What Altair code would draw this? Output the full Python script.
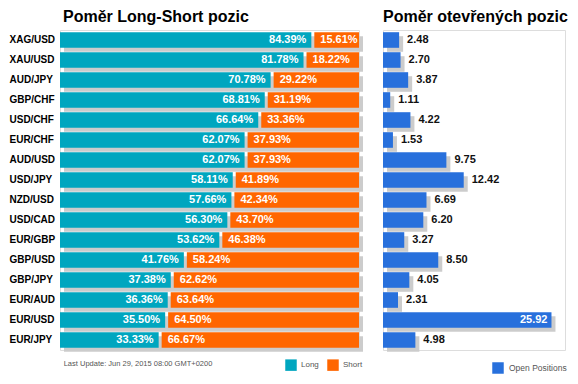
import altair as alt
import pandas as pd

pairs = ["XAG/USD", "XAU/USD", "AUD/JPY", "GBP/CHF", "USD/CHF", "EUR/CHF", "AUD/USD", "USD/JPY",
         "NZD/USD", "USD/CAD", "EUR/GBP", "GBP/USD", "GBP/JPY", "EUR/AUD", "EUR/USD", "EUR/JPY"]
long_pct = [84.39, 81.78, 70.78, 68.81, 66.64, 62.07, 62.07, 58.11, 57.66, 56.30, 53.62, 41.76,
            37.38, 36.36, 35.50, 33.33]
short_pct = [15.61, 18.22, 29.22, 31.19, 33.36, 37.93, 37.93, 41.89, 42.34, 43.70, 46.38, 58.24,
             62.62, 63.64, 64.50, 66.67]
open_pos = [2.48, 2.70, 3.87, 1.11, 4.22, 1.53, 9.75, 12.42, 6.69, 6.20, 3.27, 8.50, 4.05, 2.31,
            25.92, 4.98]
left_title = "Poměr Long-Short pozic"
right_title = "Poměr otevřených pozic"
footer = "Last Update: Jun 29, 2015 08:00 GMT+0200"
side_names = ["Long", "Short"]
open_name = "Open Positions"

TEAL = "#00A6BF"
ORANGE = "#FF6600"
BLUE = "#2870DC"
SHADOW = "#CCCCCC"
FONT = "Liberation Sans"

df = pd.DataFrame({"pair": pairs, "long": long_pct, "short": short_pct, "open": open_pos})
df["long_side"] = side_names[0]
df["short_side"] = side_names[1]
df["open_name"] = open_name

ysc = alt.Scale(domain=pairs, paddingInner=0.22, paddingOuter=0.11)
y_left = alt.Y("pair:N", sort=pairs, scale=ysc,
               axis=alt.Axis(title=None, ticks=False, tickSize=0, domain=False, labelAlign="left",
                             labelPadding=51, labelFont=FONT, labelFontSize=10,
                             labelFontWeight="bold", labelColor="#000000"))
y_right = alt.Y("pair:N", sort=pairs, scale=ysc, axis=None)

xl = alt.Scale(domain=[0, 100], nice=False)
side_scale = alt.Scale(domain=side_names, range=[TEAL, ORANGE])
side_legend = alt.Legend(orient="none", legendX=225, legendY=329, direction="horizontal",
                         title=None, symbolType="square", symbolSize=132, symbolStrokeWidth=0,
                         labelFontSize=8, labelColor="#555555", labelFont=FONT,
                         columnPadding=8, labelOffset=4, padding=0)

base_l = alt.Chart(df).transform_calculate(
    total="datum.long + datum.short",
    zero="0",
    llab="format(datum.long, '.2f') + '%'",
    slab="format(datum.short, '.2f') + '%'",
)

shadow_l = base_l.mark_bar(color=SHADOW, xOffset=4, x2Offset=4, yOffset=4, y2Offset=4).encode(
    x=alt.X("zero:Q", scale=xl, axis=None), x2="total:Q", y=y_left)
long_bar = base_l.mark_bar(x2Offset=-1).encode(
    x=alt.X("zero:Q", scale=xl, axis=None), x2="long:Q", y=y_left,
    color=alt.Color("long_side:N", scale=side_scale, legend=side_legend))
short_bar = base_l.mark_bar(xOffset=2).encode(
    x=alt.X("long:Q", scale=xl, axis=None), x2="total:Q", y=y_left,
    color=alt.Color("short_side:N", scale=side_scale, legend=side_legend))
long_txt = base_l.mark_text(align="right", baseline="middle", dx=-6, color="white",
                            font=FONT, fontSize=11, fontWeight="bold").encode(
    x=alt.X("long:Q", scale=xl, axis=None), y=y_left, text="llab:N")
short_txt = base_l.mark_text(align="left", baseline="middle", dx=8, color="white",
                             font=FONT, fontSize=11, fontWeight="bold").encode(
    x=alt.X("long:Q", scale=xl, axis=None), y=y_left, text="slab:N")
foot = alt.Chart(pd.DataFrame({"t": [footer]})).mark_text(
    align="left", baseline="middle", fontSize=7.5, color="#555555", font=FONT).encode(
    x=alt.value(3.7), y=alt.value(334), text="t:N")

left = alt.layer(shadow_l, long_bar, short_bar, long_txt, short_txt, foot).properties(
    width=299, height=320,
    title=alt.Title(left_title, anchor="start", frame="group", fontSize=16, font=FONT,
                    fontWeight="bold", color="#000000", dx=3, offset=5))

xr = alt.Scale(domain=[0, 28], nice=False)
open_legend = alt.Legend(orient="none", legendX=109, legendY=332, direction="horizontal",
                         title=None, symbolType="square", symbolSize=132, symbolStrokeWidth=0,
                         labelFontSize=8.5, labelColor="#555555", labelFont=FONT,
                         labelOffset=5, padding=0)
base_r = alt.Chart(df).transform_calculate(zero="0", olab="format(datum.open, '.2f')")
shadow_r = base_r.mark_bar(color=SHADOW, xOffset=4, x2Offset=4, yOffset=4, y2Offset=4).encode(
    x=alt.X("zero:Q", scale=xr, axis=None), x2="open:Q", y=y_right)
open_bar = base_r.mark_bar().encode(
    x=alt.X("zero:Q", scale=xr, axis=None), x2="open:Q", y=y_right,
    color=alt.Color("open_name:N", scale=alt.Scale(domain=[open_name], range=[BLUE]),
                    legend=open_legend))
out_txt = base_r.transform_filter("datum.open < 20").mark_text(
    align="left", baseline="middle", dx=8, color="#111111", font=FONT, fontSize=11,
    fontWeight="bold").encode(x=alt.X("open:Q", scale=xr, axis=None), y=y_right, text="olab:N")
in_txt = base_r.transform_filter("datum.open >= 20").mark_text(
    align="right", baseline="middle", dx=-4, color="white", font=FONT, fontSize=11,
    fontWeight="bold").encode(x=alt.X("open:Q", scale=xr, axis=None), y=y_right, text="olab:N")

right = alt.layer(shadow_r, open_bar, out_txt, in_txt).properties(
    width=182, height=320,
    title=alt.Title(right_title, anchor="start", frame="group", fontSize=16, font=FONT,
                    fontWeight="bold", color="#000000", offset=5))

chart = alt.hconcat(left, right, spacing=24, bounds="flush", padding=0).resolve_scale(
    color="independent").resolve_legend(color="independent").configure_view(
    stroke=None).configure(font=FONT)

chart.save("out.html", embed_options={"renderer": "svg", "actions": False})
